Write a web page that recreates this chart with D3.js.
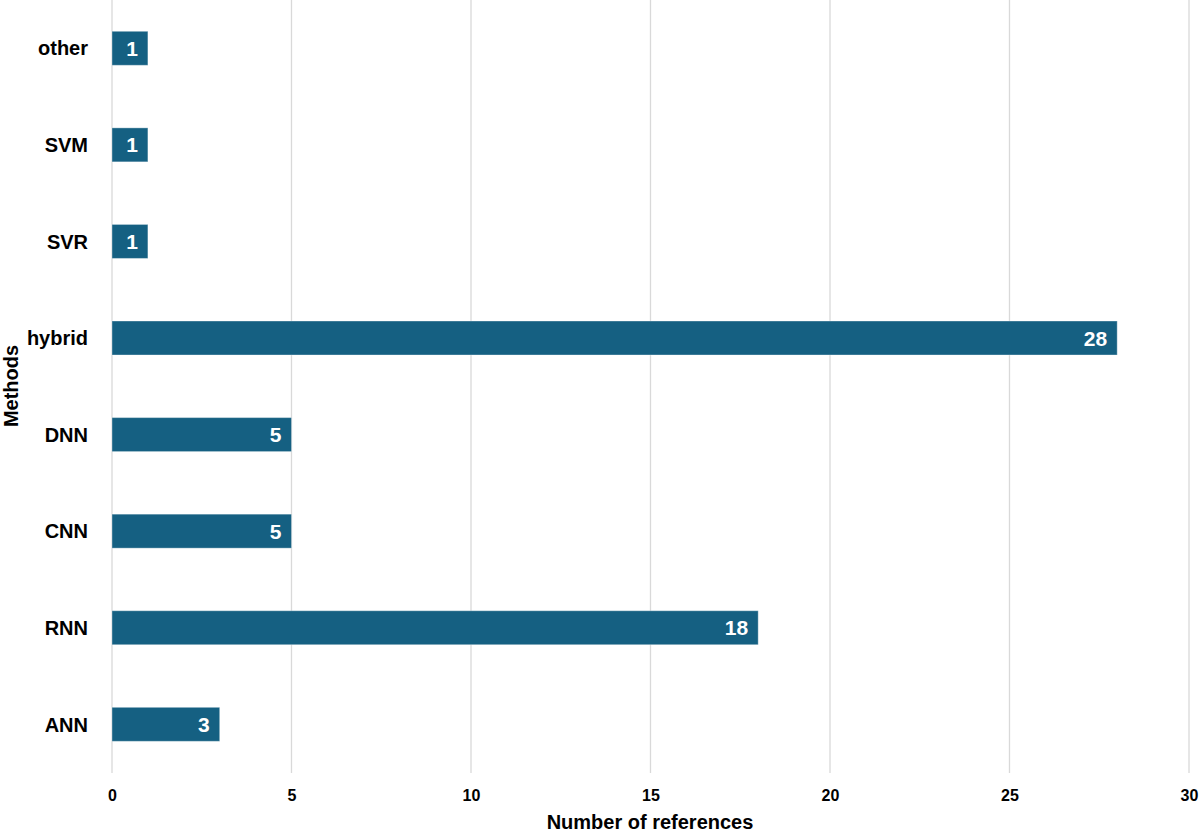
<!DOCTYPE html>
<html><head><meta charset="utf-8">
<script src="https://cdn.jsdelivr.net/npm/d3@7"></script>
<style>
html,body{margin:0;padding:0;background:#fff;}
text{font-family:"Liberation Sans",Arial,sans-serif;font-weight:bold;}
</style></head>
<body>
<svg id="chart" width="1200" height="833"></svg>
<script>
const categories = ["other","SVM","SVR","hybrid","DNN","CNN","RNN","ANN"];
const values = [1,1,1,28,5,5,18,3];
const xTicks = [0,5,10,15,20,25,30];
const xTitle = "Number of references";
const yTitle = "Methods";

const svg = d3.select("#chart");
const x = d3.scaleLinear().domain([0,30]).range([112,1189]);
const y = d3.scaleBand().domain(categories).range([0,772.6]).paddingInner(0.648).paddingOuter(0.324);

// gridlines
svg.append("g").selectAll("line").data(xTicks).join("line")
  .attr("x1", d=>x(d)).attr("x2", d=>x(d))
  .attr("y1", 0).attr("y2", 773)
  .attr("stroke", "#d9d9d9").attr("stroke-width", 1.3);

// bars
svg.append("g").selectAll("rect").data(categories).join("rect")
  .attr("x", x(0)).attr("y", d=>y(d))
  .attr("width", (d,i)=>x(values[i])-x(0))
  .attr("height", y.bandwidth())
  .attr("fill", "#156082")
  .attr("stroke", "#ffffff").attr("stroke-opacity", 0.35).attr("stroke-width", 1);

// value labels
svg.append("g").selectAll("text").data(categories).join("text")
  .attr("x", (d,i)=>x(values[i]) - 10)
  .attr("y", d=>y(d) + y.bandwidth()/2)
  .attr("dy", "0.36em")
  .attr("text-anchor", "end")
  .attr("fill", "#fff")
  .style("font-size", "21px")
  .text((d,i)=>values[i]);

// x axis tick labels
const xAxis = d3.axisBottom(x).tickValues(xTicks).tickSize(0).tickPadding(0);
const gx = svg.append("g").attr("transform", "translate(0,790)").call(xAxis);
gx.select(".domain").remove();
gx.selectAll("text").attr("fill","#000").style("font-size","16px").attr("dy","0.71em").attr("y",0);

// y axis category labels
const yAxis = d3.axisLeft(y).tickSize(0).tickPadding(0);
const gy = svg.append("g").attr("transform", "translate(88,0)").call(yAxis);
gy.select(".domain").remove();
gy.selectAll("text").attr("fill","#000").style("font-size","20px").attr("dy","0.36em").attr("x",0);

// axis titles
svg.append("text").attr("x", 650).attr("y", 829).attr("text-anchor","middle")
  .style("font-size","20px").attr("fill","#000").text(xTitle);
svg.append("text").attr("transform","translate(18,386) rotate(-90)").attr("text-anchor","middle")
  .style("font-size","20px").attr("fill","#000").text(yTitle);
</script>
</body></html>
